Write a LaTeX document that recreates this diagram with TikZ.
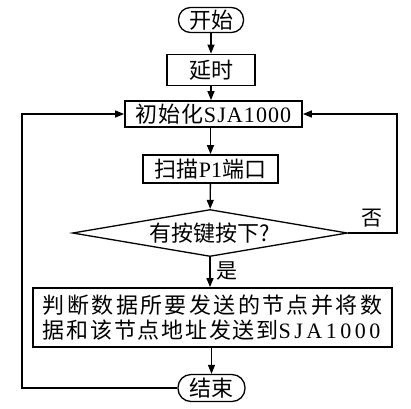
\documentclass[tikz,border=0pt]{standalone}
\usepackage{fontspec}
\setmainfont{Noto Sans CJK SC}
\newfontfamily\lat{Liberation Serif}
\usetikzlibrary{shapes.geometric,arrows.meta}
\tikzset{
  every node/.style={font=\fontsize{22}{25}\selectfont, inner sep=0pt},
  term/.style={draw, line width=1.3pt, rounded corners=12pt, minimum height=25pt},
  proc/.style={draw, line width=1.8pt},
  dec/.style={draw, line width=1.3pt, shape=diamond, aspect=5.85},
  flow/.style={line width=1.3pt, -{Triangle[length=9pt,width=7pt]}},
  lbl/.style={font=\fontsize{21}{24}\selectfont}
}
\begin{document}
\begin{tikzpicture}[x=1pt,y=-1pt]
\useasboundingbox (0,0) rectangle (411,408);
\node[term, minimum width=65pt] (start) at (211,20) {开始};
\node[proc, minimum width=88pt, minimum height=31pt] (delay) at (211,70) {延时};
\node[proc, minimum width=177pt, minimum height=26pt] (init) at (213.5,114) {\addfontfeature{LetterSpace=5}初始化{\lat\addfontfeature{LetterSpace=5}SJA1000}};
\node[proc, minimum width=135pt, minimum height=28pt] (scan) at (210.5,169) {扫描{\lat P1}端口};
\node[dec, minimum width=275pt, minimum height=47pt] (key) at (210,233) {有按键按下?};
\node[proc, minimum width=359pt, minimum height=59pt, align=left] (send) at (212.5,317.5)
  {\addfontfeature{LetterSpace=11}判断数据所要发送的节点并将数\\
   \addfontfeature{LetterSpace=8}据和该节点地址发送到{\lat\addfontfeature{LetterSpace=16}SJA1000}};
\node[term, minimum width=67pt, minimum height=27pt, rounded corners=13pt] (end) at (211.5,388) {结束};
\coordinate (rtop) at (397,114);
\coordinate (rbot) at (397,233);
\coordinate (ltop) at (22,114);
\coordinate (lbot) at (22,388);
\draw[flow] (start) -- (start|-delay.north);
\draw[flow] (delay) -- (delay|-init.north);
\draw[flow] (init.south-|scan) -- (scan);
\draw[flow] (scan) -- (key);
\draw[flow] (key.south) -- (key.south|-send.north) node[lbl, pos=0.45, right=6pt] {是};
\draw[flow] (send.south-|end) -- (end);
\draw[flow] (key.east) -- (rbot) -- (rtop) -- (init.east);
\node[lbl] (no) at (372,218) {否};
\draw[flow] (end.west) -- (lbot) -- (ltop) -- (init.west);
\end{tikzpicture}
\end{document}
